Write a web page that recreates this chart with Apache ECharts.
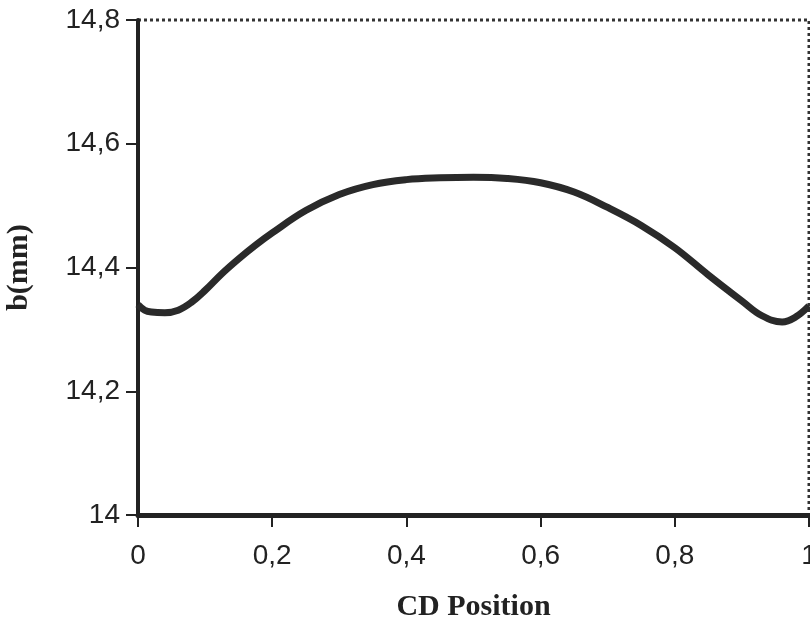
<!DOCTYPE html>
<html>
<head>
<meta charset="utf-8">
<script src="https://cdn.jsdelivr.net/npm/echarts@6/dist/echarts.min.js"></script>
<style>
  html, body { margin: 0; padding: 0; background: #fff; }
  #chartID { width: 810px; height: 627px; }
</style>
</head>
<body>
<div id="chartID"></div>
<script>
// CD position vs b(mm)
var cdPositionArray = [0, 0.01, 0.02, 0.04, 0.06, 0.08, 0.1, 0.125, 0.15, 0.175, 0.2, 0.25, 0.3, 0.35, 0.4, 0.45, 0.5, 0.55, 0.6, 0.65, 0.7, 0.75, 0.8, 0.85, 0.9, 0.93, 0.96, 0.98, 1.0];
var bValueArray = [14.34, 14.331, 14.328, 14.327, 14.331, 14.344, 14.363, 14.39, 14.414, 14.436, 14.456, 14.492, 14.518, 14.534, 14.542, 14.545, 14.546, 14.544, 14.537, 14.522, 14.497, 14.468, 14.432, 14.388, 14.346, 14.322, 14.312, 14.32, 14.338];
var xTickArray = [0, 0.2, 0.4, 0.6, 0.8, 1];
var yTickArray = [14, 14.2, 14.4, 14.6, 14.8];

function commaLabel(val){
	return String(val).replace('.', ',');
}

var chart = echarts.init(document.getElementById('chartID'));
var lineData = [];
for (var i = 0; i < cdPositionArray.length; i++) {
	lineData.push([cdPositionArray[i], bValueArray[i]]);
}

var option = {
	animation: false,
	grid: {
		left: 138,
		right: 1,
		top: 20,
		bottom: 112,
		outerBoundsMode: 'none',
		containLabel: false,
		show: true,
		borderColor: '#333',
		borderWidth: 3,
		borderType: 'dotted'
	},
	xAxis: {
		type: 'value',
		min: xTickArray[0],
		max: xTickArray[xTickArray.length - 1],
		interval: 0.2,
		name: 'CD Position',
		nameLocation: 'middle',
		nameGap: 77,
		nameTextStyle: {
			fontFamily: 'Liberation Serif',
			fontWeight: 'bold',
			fontSize: 30,
			color: '#222'
		},
		axisLine: { show: true, lineStyle: { color: '#222', width: 5 } },
		axisTick: { show: true, length: 12, lineStyle: { color: '#222', width: 2 } },
		splitLine: { show: false },
		axisLabel: {
			margin: 27,
			fontFamily: 'Liberation Sans',
			fontSize: 28,
			color: '#222',
			formatter: commaLabel
		}
	},
	yAxis: {
		type: 'value',
		min: yTickArray[0],
		max: yTickArray[yTickArray.length - 1],
		interval: 0.2,
		name: 'b(mm)',
		nameLocation: 'middle',
		nameGap: 104,
		nameTextStyle: {
			fontFamily: 'Liberation Serif',
			fontWeight: 'bold',
			fontSize: 30,
			color: '#222'
		},
		axisLine: { show: true, lineStyle: { color: '#222', width: 4 } },
		axisTick: { show: true, length: 12, lineStyle: { color: '#222', width: 2 } },
		splitLine: { show: false },
		axisLabel: {
			margin: 18,
			fontFamily: 'Liberation Sans',
			fontSize: 28,
			color: '#222',
			formatter: commaLabel
		}
	},
	series: [{
		type: 'line',
		data: lineData,
		smooth: 0.4,
		showSymbol: false,
		lineStyle: { color: '#2a2a2a', width: 7 }
	}]
};
chart.setOption(option);
</script>
</body>
</html>
